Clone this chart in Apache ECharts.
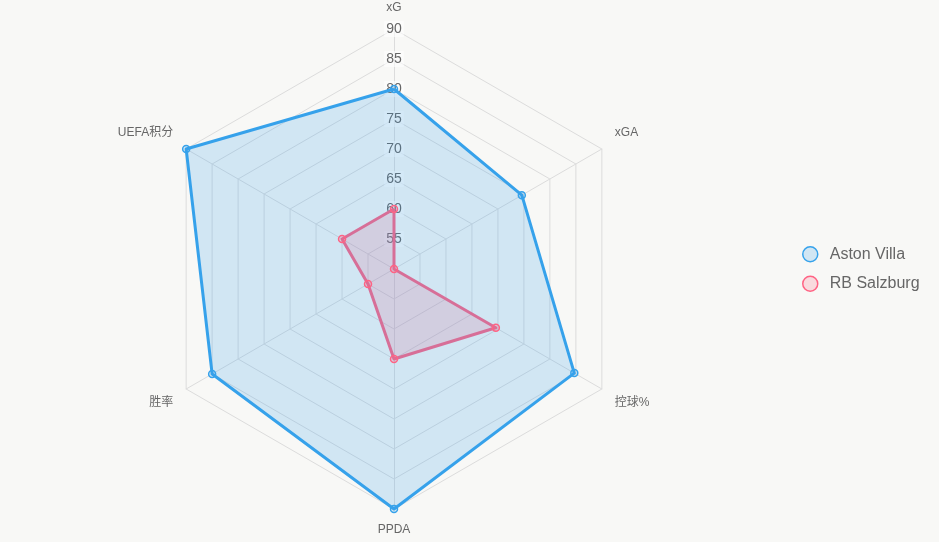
<!DOCTYPE html>
<html>
<head>
<meta charset="utf-8">
<script src="https://cdn.jsdelivr.net/npm/echarts@6/dist/echarts.min.js"></script>
<style>
  html, body { margin: 0; padding: 0; background: #f8f8f6; }
  #chart { width: 939px; height: 542px; }
</style>
</head>
<body>
<div id="chart"></div>
<script>
// 雷达图指标与数据（顺时针顺序）
var indicators = ['xG', 'xGA', '控球%', 'PPDA', '胜率', 'UEFA积分'];
var astonVilla = [80, 74.6, 84.7, 90, 85, 90];
var rbSalzburg = [60, 50, 69.6, 65, 55, 60];
var axisMin = 50;
var axisMax = 90;

// echarts 雷达默认逆时针，这里把顺序反过来（第一个保持在顶部）
var order = [0, 5, 4, 3, 2, 1];
function reorder(arr) {
    return order.map(function (i) { return arr[i]; });
}

// 名称的垂直对齐，模仿原图
var nameAlign = {
    'xGA': { verticalAlign: 'bottom', padding: [0, 0, 3, 0] },
    'UEFA积分': { verticalAlign: 'bottom', padding: [0, 0, 3, 0] },
    '控球%': { verticalAlign: 'top' },
    '胜率': { verticalAlign: 'top' }
};

var myChart = echarts.init(document.getElementById('chart'));

var indicatorList = reorder(indicators).map(function (name, i) {
    var item = { name: name, min: axisMin, max: axisMax };
    if (nameAlign[name]) {
        item.nameTextStyle = nameAlign[name];
    }
    if (i === 0) {
        // 只在第一个轴上显示刻度
        item.axisLabel = { show: true };
    }
    return item;
});

var option = {
    backgroundColor: '#f8f8f6',
    textStyle: { fontFamily: 'Arial, "Liberation Sans", "Noto Sans CJK SC", sans-serif' },
    legend: {
        orient: 'vertical',
        left: 797,
        top: 241,
        itemWidth: 15,
        itemHeight: 15,
        itemGap: 13,
        icon: 'circle',
        textStyle: { color: '#666', fontSize: 16, padding: [0, 0, 0, 7] },
        data: [
            { name: 'Aston Villa', itemStyle: { color: 'rgba(54,162,235,0.2)', borderColor: '#36a2eb', borderWidth: 1.5 } },
            { name: 'RB Salzburg', itemStyle: { color: 'rgba(255,99,132,0.2)', borderColor: '#ff6384', borderWidth: 1.5 } }
        ]
    },
    radar: {
        center: [394, 269],
        radius: 240,
        startAngle: 90,
        splitNumber: 8,
        shape: 'polygon',
        indicator: indicatorList,
        axisName: { color: '#666', fontSize: 12 },
        nameGap: 15,
        splitLine: { lineStyle: { color: '#dcdcdc', width: 1 } },
        axisLine: { lineStyle: { color: '#dcdcdc', width: 1 } },
        splitArea: { show: false },
        axisLabel: {
            show: false,
            color: '#666',
            fontSize: 14,
            margin: 0,
            align: 'center',
            verticalAlign: 'middle',
            backgroundColor: 'rgba(255,255,255,0.6)',
            padding: [1, 2],
            formatter: function (v) {
                return v === axisMin ? '' : v;
            }
        }
    },
    series: [
        {
            name: 'RB Salzburg',
            type: 'radar',
            symbol: 'circle',
            symbolSize: 7,
            lineStyle: { color: '#ff6384', width: 3 },
            areaStyle: { color: 'rgba(255,99,132,0.2)', opacity: 1 },
            itemStyle: { color: 'rgba(255,99,132,0.2)', borderColor: '#ff6384', borderWidth: 1.5 },
            data: [{ name: 'RB Salzburg', value: reorder(rbSalzburg) }]
        },
        {
            name: 'Aston Villa',
            type: 'radar',
            symbol: 'circle',
            symbolSize: 7,
            lineStyle: { color: '#36a2eb', width: 3 },
            areaStyle: { color: 'rgba(54,162,235,0.2)', opacity: 1 },
            itemStyle: { color: 'rgba(54,162,235,0.2)', borderColor: '#36a2eb', borderWidth: 1.5 },
            data: [{ name: 'Aston Villa', value: reorder(astonVilla) }]
        }
    ]
};

myChart.setOption(option);
</script>
</body>
</html>
